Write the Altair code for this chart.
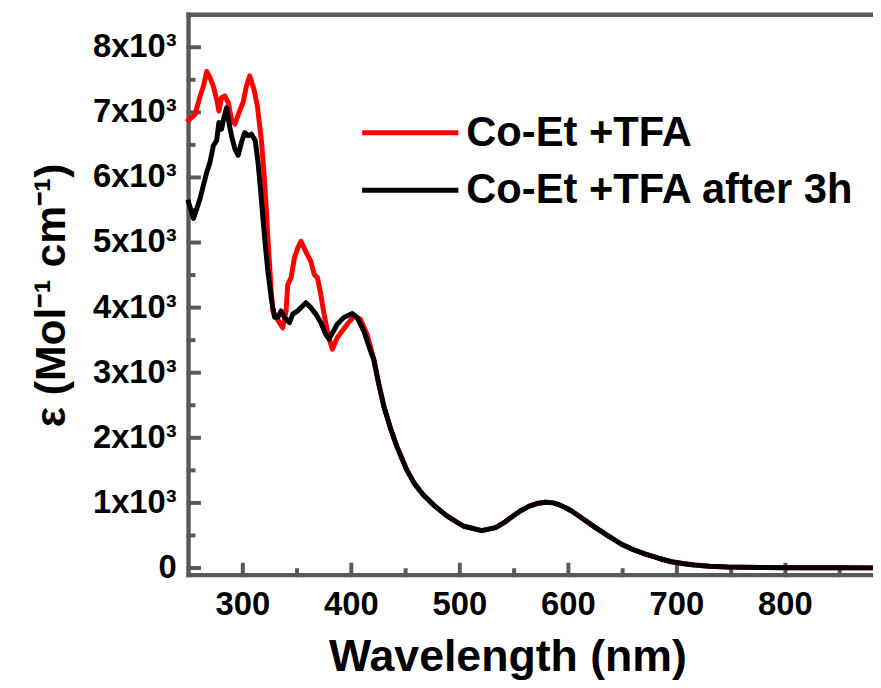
import altair as alt
import pandas as pd

# ---- data ----
wl_red = [250, 256, 260.7, 263.7, 266.8, 269.8, 272.9, 275.9, 278, 280.4, 283.5, 286.6,
          289.6, 292.7, 297, 300.3, 303.3, 306.4, 310.3, 313.4, 317, 319.5, 321.6, 323.1,
          324.7, 326.2, 327.7, 330.8, 333.8, 336.8, 339.9, 341.4, 344.5, 347.5, 350.5,
          353.6, 358.1, 362.7, 365.8, 368.8, 371.9, 374.9, 378, 381, 382.5, 387.1, 396.3,
          402.4, 408.4, 414.5, 420.7]
eps_red = [6880, 6970, 7250, 7400, 7630, 7530, 7400, 7200, 7020, 7225, 7250, 7150,
           6890, 6820, 7020, 7150, 7400, 7560, 7350, 7100, 6590, 6080, 5520, 5070,
           4660, 4250, 3950, 3850, 3770, 3690, 3950, 4350, 4460, 4760, 4910,
           5020, 4860, 4710, 4510, 4460, 4200, 3900, 3640, 3440, 3360, 3540, 3745,
           3870, 3820, 3590, 3210]

wl_black = [250, 254.6, 257.6, 260.7, 263.7, 266.8, 269.8, 272.9, 275.9, 278, 280.4, 282.6,
            285, 287.2, 289.6, 292.7, 295.7, 298.8, 301.8, 304.8, 307.9, 311.5, 314, 316.5,
            318.6, 320.7, 323.1, 326.2, 329.3, 332.3, 335.3, 338.4, 343, 346, 350.5, 355.1,
            358.1, 362.7, 367.3, 371.9, 376.4, 379.5, 387, 393.2, 400.8, 405.4, 411.5, 417.6,
            420.7]
eps_black = [5620, 5370, 5520, 5680, 5880, 6080, 6235, 6490, 6565, 6845, 6740, 6920,
             7070, 6845, 6640, 6440, 6340, 6540, 6690, 6640, 6665, 6565, 6235, 5780,
             5370, 4965, 4560, 4150, 3850, 3850, 3950, 3850, 3770, 3900, 3950, 4025,
             4075, 4000, 3900, 3770, 3590, 3515, 3745, 3850, 3910, 3850, 3640, 3340,
             3200]

wl_tail = [425, 430, 436, 442, 451, 458, 466, 477, 488, 503, 520, 533, 541, 549, 556, 564,
           571, 579, 586, 591, 597, 603, 614, 625, 637, 649, 660, 671, 683, 695, 705, 716,
           730, 747, 777, 808, 850, 882]
eps_tail = [2850, 2480, 2150, 1865, 1510, 1300, 1130, 950, 800, 645, 575, 620, 700, 800, 880, 950,
            990, 1010, 1000, 975, 930, 875, 750, 620, 490, 365, 280, 213, 150, 96, 68, 46,
            28, 15, 8, 5, 3, 2]

series = ["Co-Et +TFA", "Co-Et +TFA after 3h"]
colors = ["#ff0000", "#000000"]

x_range = [250, 880.7]
y_range = [-110, 8500]
x_major = [300, 400, 500, 600, 700, 800]
x_tick_labels = ["300", "400", "500", "600", "700", "800"]
x_minor = [350, 450, 550, 650, 750, 850]
y_major = [0, 1000, 2000, 3000, 4000, 5000, 6000, 7000, 8000]
y_tick_labels = ["0", "1x10\u00b3", "2x10\u00b3", "3x10\u00b3", "4x10\u00b3",
                 "5x10\u00b3", "6x10\u00b3", "7x10\u00b3", "8x10\u00b3"]
y_minor = [500, 1500, 2500, 3500, 4500, 5500, 6500, 7500]
x_title = "Wavelength (nm)"
y_title = "\u03b5 (Mol\u207b\u00b9 cm\u207b\u00b9)"

# ---- style ----
W, H = 690, 565
AX = "#595959"
FONT = "Liberation Sans"
MAJOR_PX, MINOR_PX = 10.5, 5.0
AXIS_KEY = "axis"

xs = alt.Scale(domain=x_range, nice=False, zero=False)
ys = alt.Scale(domain=y_range, nice=False, zero=False)

kx = (x_range[1] - x_range[0]) / W
ky = (y_range[1] - y_range[0]) / H

rows = []
# frame and inward ticks (drawn first, underneath the spectra)
frame_segments = [
    ("left", (x_range[0], y_range[0]), (x_range[0], y_range[1])),
    ("bottom", (x_range[0], y_range[0]), (x_range[1], y_range[0])),
    ("top", (x_range[0], y_range[1]), (x_range[1], y_range[1])),
]
for name, p0, p1 in frame_segments:
    for px, py in (p0, p1):
        rows.append({"wl": px, "eps": py, "series": AXIS_KEY, "seg": name, "sw": 4.4})
for i, v in enumerate(x_major + x_minor):
    ln = MAJOR_PX if v in x_major else MINOR_PX
    rows.append({"wl": v, "eps": y_range[0], "series": AXIS_KEY, "seg": f"x{i}", "sw": 4})
    rows.append({"wl": v, "eps": y_range[0] + ln * ky, "series": AXIS_KEY, "seg": f"x{i}", "sw": 4})
for i, v in enumerate(y_major + y_minor):
    ln = MAJOR_PX if v in y_major else MINOR_PX
    rows.append({"wl": x_range[0], "eps": v, "series": AXIS_KEY, "seg": f"y{i}", "sw": 4})
    rows.append({"wl": x_range[0] + ln * kx, "eps": v, "series": AXIS_KEY, "seg": f"y{i}", "sw": 4})
# spectra
for w, e in zip(wl_red + wl_tail, eps_red + eps_tail):
    rows.append({"wl": w, "eps": e, "series": series[0], "seg": series[0], "sw": 5})
for w, e in zip(wl_black + wl_tail, eps_black + eps_tail):
    rows.append({"wl": w, "eps": e, "series": series[1], "seg": series[1], "sw": 5})
df = pd.DataFrame(rows)

lines = alt.Chart(df).mark_line(strokeJoin="round", strokeCap="square").encode(
    x=alt.X("wl:Q", scale=xs, axis=None),
    y=alt.Y("eps:Q", scale=ys, axis=None),
    detail="seg:N",
    strokeWidth=alt.StrokeWidth("sw:Q", scale=None, legend=None),
    color=alt.Color("series:N",
                    scale=alt.Scale(domain=[AXIS_KEY] + series, range=[AX] + colors),
                    legend=alt.Legend(
                        values=series,
                        orient="none", legendX=187, legendY=82.5, title="",
                        symbolType="M-1.426,0H1.426", symbolSize=4624, symbolStrokeWidth=5,
                        labelFont=FONT, labelFontSize=42, labelFontWeight="bold",
                        labelColor="black", labelOffset=20, labelLimit=600, padding=0,
                        rowPadding=0)),
)

# tick labels (real text, placed through the scales)
x_labels = alt.Chart(pd.DataFrame({"t": x_major, "lab": x_tick_labels})).mark_text(
    font=FONT, fontSize=33, fontWeight="bold", color="black",
    align="center", baseline="alphabetic").encode(
    x=alt.X("t:Q", scale=xs, axis=None), y=alt.value(605), text="lab:N")

y_labels = alt.Chart(pd.DataFrame({"t": y_major, "lab": y_tick_labels})).mark_text(
    font=FONT, fontSize=33, fontWeight="bold", color="black",
    align="right", baseline="middle").encode(
    y=alt.Y("t:Q", scale=ys, axis=None), x=alt.value(-12), text="lab:N")

x_title_mark = alt.Chart(pd.DataFrame({"lab": [x_title]})).mark_text(
    font=FONT, fontSize=45, fontWeight="bold", color="black",
    align="center", baseline="alphabetic").encode(
    x=alt.value(322), y=alt.value(662), text="lab:N")

y_title_mark = alt.Chart(pd.DataFrame({"lab": [y_title]})).mark_text(
    font=FONT, fontSize=43, fontWeight="bold", color="black", angle=270,
    align="center", baseline="alphabetic").encode(
    x=alt.value(-125), y=alt.value(283), text="lab:N")

chart = alt.layer(
    lines, x_labels, y_labels, x_title_mark, y_title_mark,
).properties(
    width=W, height=H,
    padding={"left": 182, "top": 4, "right": 0, "bottom": 110},
    autosize=alt.AutoSizeParams(type="none"),
).configure_view(strokeWidth=0)

chart.save("out.html", embed_options={"renderer": "svg", "actions": False})
